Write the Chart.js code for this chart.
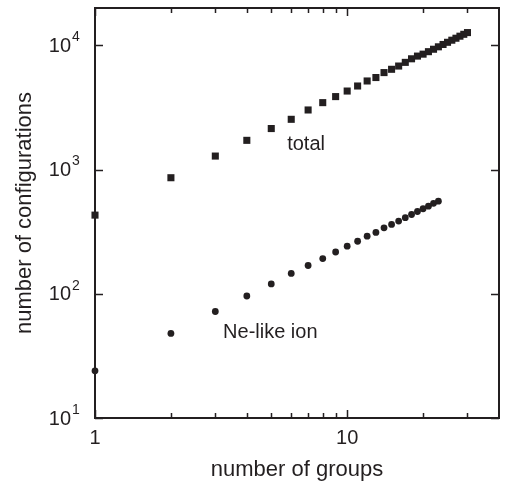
<!DOCTYPE html>
<html>
<head>
<meta charset="utf-8">
<script src="https://cdn.jsdelivr.net/npm/chart.js@4/dist/chart.umd.min.js"></script>
<style>
  html, body { margin: 0; padding: 0; background: #fff; }
  #wrap { width: 507px; height: 493px; }
</style>
</head>
<body>
<div id="wrap"><canvas id="cvs"></canvas></div>
<script>
var ink = '#231f20';
var fontFamily = '"Liberation Sans", Arial, Helvetica, sans-serif';

// data
var totalGroups = [1, 2, 3, 4, 5, 6, 7, 8, 9, 10, 11, 12, 13, 14, 15,
                   16, 17, 18, 19, 20, 21, 22, 23, 24, 25, 26, 27, 28, 29, 30];
var totalConfigs = [430, 860, 1285, 1720, 2140, 2540, 3020, 3460, 3870, 4290,
                    4710, 5170, 5510, 6040, 6420, 6820, 7300, 7800, 8200, 8500,
                    8900, 9310, 9740, 10170, 10590, 11010, 11420, 11860, 12280, 12680];
var neGroups = [1, 2, 3, 4, 5, 6, 7, 8, 9, 10, 11, 12,
                13, 14, 15, 16, 17, 18, 19, 20, 21, 22, 23];
var neConfigs = [24, 48, 72, 96, 120, 146, 169, 192, 217, 242, 265, 291,
                 312, 340, 362, 385, 410, 435, 460, 484, 508, 535, 557];

var xMajorTicks = [1, 10];
var xMinorTicks = [2, 3, 4, 5, 6, 7, 8, 9, 20, 30];
var yMajorTicks = [10, 100, 1000, 10000];
var yTickExponents = ['1', '2', '3', '4'];

var seriesLabels = [
  { text: 'total', x: 5.78, y: 1600 },
  { text: 'Ne-like ion', x: 3.22, y: 48.7 }
];

function pairs(xs, ys) {
  return xs.map(function (x, i) { return { x: x, y: ys[i] }; });
}

// frame, inward ticks, y labels with exponents, series labels
var framePlugin = {
  id: 'frame',
  beforeDatasetsDraw: function (chart) {
    var ctx = chart.ctx;
    var a = chart.chartArea;
    var xs = chart.scales.x, ys = chart.scales.y;
    ctx.save();
    ctx.strokeStyle = ink;
    ctx.lineWidth = 2;
    ctx.strokeRect(a.left, a.top, a.right - a.left, a.bottom - a.top);

    ctx.lineWidth = 1.5;
    ctx.beginPath();
    function xTick(v, len) {
      var px = Math.round(xs.getPixelForValue(v)) + 0.5;
      ctx.moveTo(px, a.bottom); ctx.lineTo(px, a.bottom - len);
      ctx.moveTo(px, a.top); ctx.lineTo(px, a.top + len);
    }
    xMajorTicks.forEach(function (v) { xTick(v, 8); });
    xMinorTicks.forEach(function (v) { xTick(v, 5); });
    yMajorTicks.forEach(function (v) {
      var py = Math.round(ys.getPixelForValue(v)) + 0.5;
      ctx.moveTo(a.left, py); ctx.lineTo(a.left + 8, py);
      ctx.moveTo(a.right, py); ctx.lineTo(a.right - 8, py);
    });
    ctx.stroke();

    ctx.fillStyle = ink;
    yMajorTicks.forEach(function (v, i) {
      var py = ys.getPixelForValue(v);
      ctx.font = '20px ' + fontFamily;
      ctx.textAlign = 'right';
      ctx.textBaseline = 'middle';
      ctx.fillText('10', 71, py + 1);
      ctx.font = '14px ' + fontFamily;
      ctx.textAlign = 'left';
      ctx.fillText(yTickExponents[i], 72, py - 8);
    });

    ctx.font = '20px ' + fontFamily;
    ctx.textAlign = 'left';
    ctx.textBaseline = 'middle';
    seriesLabels.forEach(function (l) {
      ctx.fillText(l.text, xs.getPixelForValue(l.x), ys.getPixelForValue(l.y));
    });
    ctx.restore();
  }
};

var config = {
  type: 'scatter',
  data: {
    datasets: [{
      label: 'total',
      data: pairs(totalGroups, totalConfigs),
      pointStyle: 'rect',
      pointRadius: 5,
      backgroundColor: ink,
      borderWidth: 0,
      clip: false
    }, {
      label: 'Ne-like ion',
      data: pairs(neGroups, neConfigs),
      pointStyle: 'circle',
      pointRadius: 3.4,
      backgroundColor: ink,
      borderWidth: 0,
      clip: false
    }]
  },
  options: {
    responsive: true,
    maintainAspectRatio: false,
    animation: false,
    layout: { padding: { left: 0, right: 3, top: 8, bottom: 0 } },
    plugins: {
      legend: { display: false },
      tooltip: { enabled: false }
    },
    scales: {
      x: {
        type: 'logarithmic',
        min: 1,
        max: 40,
        afterFit: function (scale) { scale.height = 75; },
        grid: { display: false, drawTicks: false },
        border: { display: false },
        ticks: {
          autoSkip: false,
          maxRotation: 0,
          padding: 8,
          color: ink,
          font: { family: fontFamily, size: 20 },
          callback: function (v) {
            return xMajorTicks.indexOf(v) >= 0 ? String(v) : '';
          }
        },
        title: {
          display: true,
          text: 'number of groups',
          color: ink,
          font: { family: fontFamily, size: 22 },
          padding: { top: 0, bottom: 10 }
        }
      },
      y: {
        type: 'logarithmic',
        min: 10,
        max: 20000,
        afterFit: function (scale) { scale.width = 95; },
        grid: { display: false, drawTicks: false },
        border: { display: false },
        ticks: { display: false },
        title: {
          display: true,
          text: 'number of configurations',
          color: ink,
          font: { family: fontFamily, size: 22 },
          padding: { top: 12, bottom: 0 }
        }
      }
    }
  },
  plugins: [framePlugin]
};

window.onload = function () {
  window.myChart = new Chart(document.getElementById('cvs'), config);
};
</script>
</body>
</html>
